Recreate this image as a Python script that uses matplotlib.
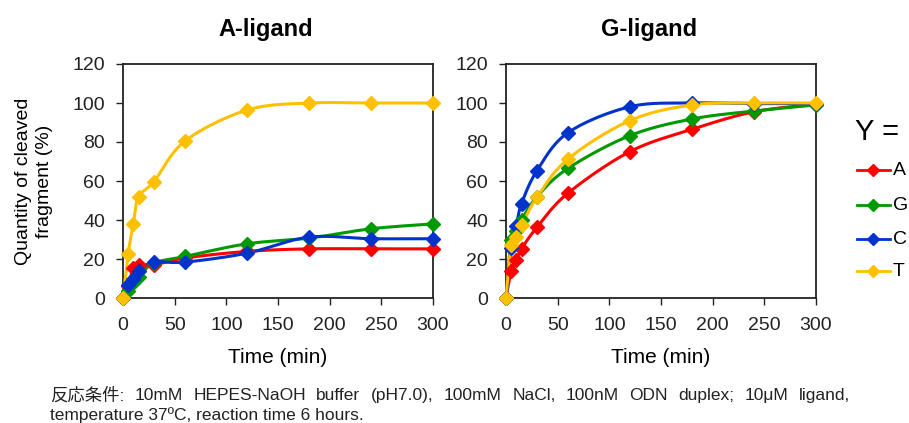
import numpy as np
import matplotlib
matplotlib.use("Agg")
import matplotlib.pyplot as plt
from matplotlib.lines import Line2D

plt.rcParams['font.family'] = ['Liberation Sans', 'DejaVu Sans']

# Reaction time points (min)
time_min = [0, 5, 10, 15, 30, 60, 120, 180, 240, 300]

# Cleaved fragment (%) for each Y base, A-ligand
a_lig_A = [0, 6, 15.4, 17, 17, 20.5, 23.9, 25.2, 25.2, 25.2]
a_lig_G = [0, 3.4, 7.7, 11, 17.9, 21.3, 27.8, 30.7, 35.5, 38]
a_lig_C = [0, 6.5, 9.5, 14, 18.4, 18.4, 23, 31.2, 30.4, 30.4]
a_lig_T = [0, 22.7, 38.2, 51.8, 59.7, 80.5, 96.4, 100, 100, 100]

# Cleaved fragment (%) for each Y base, G-ligand
g_lig_A = [0, 13.6, 19.6, 25.2, 36.3, 53.8, 75.1, 86.5, 95.5, 99.3]
g_lig_G = [0, 30, 34.5, 40, 52, 66.5, 83.3, 91.8, 95.9, 99]
g_lig_C = [0, 25.4, 37, 48.3, 65.3, 84.8, 98.1, 100, 99.7, 99.7]
g_lig_T = [0, 27.3, 31.2, 37.2, 51.7, 71.3, 91, 99, 100, 100]

series_names = ["A", "G", "C", "T"]
series_colors = ["#ff0000", "#009900", "#0033cc", "#ffc000"]
panel_titles = ["A-ligand", "G-ligand"]
x_ticks = [0, 50, 100, 150, 200, 250, 300]
y_ticks = [0, 20, 40, 60, 80, 100, 120]

caption_line1 = "反応条件: 10mM HEPES-NaOH buffer (pH7.0), 100mM NaCl, 100nM ODN duplex; 10μM ligand,"
caption_line2 = "temperature 37ºC, reaction time 6 hours."

W, H = 909, 423
fig = plt.figure(figsize=(W / 100, H / 100), dpi=100)


def ax_rect(x0, y0, x1, y1):
    return [x0 / W, 1 - y1 / H, (x1 - x0) / W, (y1 - y0) / H]


ax_left = fig.add_axes(ax_rect(123, 64, 433, 298))
ax_right = fig.add_axes(ax_rect(506, 64, 816, 298))


def smooth_path(ax, xs, ys, n=30):
    """Bezier smoothing (Catmull-Rom control points) computed in display space."""
    pts = ax.transData.transform(np.column_stack([xs, ys]))
    out = [pts[0]]
    m = len(pts)
    for i in range(m - 1):
        p0 = pts[i - 1] if i > 0 else pts[i]
        p1 = pts[i]
        p2 = pts[i + 1]
        p3 = pts[i + 2] if i + 2 < m else pts[i + 1]
        c1 = p1 + (p2 - p0) / 6.0
        c2 = p2 - (p3 - p1) / 6.0
        t = np.linspace(0, 1, n)[1:, None]
        seg = ((1 - t) ** 3) * p1 + 3 * ((1 - t) ** 2) * t * c1 + 3 * (1 - t) * t ** 2 * c2 + t ** 3 * p2
        out.extend(seg)
    out = np.array(out)
    return ax.transData.inverted().transform(out)


panels = [
    (ax_left, [a_lig_A, a_lig_G, a_lig_C, a_lig_T]),
    (ax_right, [g_lig_A, g_lig_G, g_lig_C, g_lig_T]),
]

for (ax, data), title in zip(panels, panel_titles):
    ax.set_xlim(0, 300)
    ax.set_ylim(0, 120)
    for vals, col in zip(data, series_colors):
        curve = smooth_path(ax, time_min, vals)
        ax.plot(curve[:, 0], curve[:, 1], color=col, lw=2.2, clip_on=False, zorder=3)
        ax.plot(time_min, vals, linestyle="none", marker="D", ms=7.5, color=col,
                mec=col, clip_on=False, zorder=4)
    ax.set_xticks(x_ticks)
    ax.set_yticks(y_ticks)
    ax.tick_params(direction="out", length=5, width=1, labelsize=14, colors="#222222",
                   pad=8)
    ax.tick_params(axis="x", pad=9)
    for s in ax.spines.values():
        s.set_linewidth(1.3)
        s.set_color("#222222")
    ax.set_xlabel("Time (min)", fontsize=15, labelpad=10)
    ax.set_title(title, fontsize=17, fontweight="bold", x=0.46, pad=20)

ax_left.set_ylabel("Quantity of cleaved\nfragment (%)", fontsize=14, labelpad=14,
                   linespacing=1.3)

# Legend block on the right edge
fig.text(855 / W, 1 - 132 / H, "Y =", fontsize=21, va="center", ha="left")
legend_y = [170, 205, 239, 271]
for name, col, yy in zip(series_names, series_colors, legend_y):
    fy = 1 - yy / H
    fig.add_artist(Line2D([857 / W, 890 / W], [fy, fy], color=col, lw=2,
                          transform=fig.transFigure))
    fig.add_artist(Line2D([873 / W], [fy], marker="D", ms=6, color=col,
                          transform=fig.transFigure, linestyle="none"))
    fig.text(893 / W, fy, name, fontsize=14, va="center", ha="left")

# Caption, first line justified across the width
cap_font = ['Liberation Sans', 'Noto Sans CJK JP']
fig.canvas.draw()
renderer = fig.canvas.get_renderer()
words = caption_line1.split(" ")
x_start, x_end = 50, 850
texts = []
for w in words:
    t = fig.text(0, 1 - 395 / H, w, fontsize=12.5, family=cap_font, va="center",
                 ha="left", color="#222222")
    texts.append(t)
widths = [t.get_window_extent(renderer).width for t in texts]
gap = (x_end - x_start - sum(widths)) / (len(words) - 1)
x = x_start
for t, w in zip(texts, widths):
    t.set_x(x / W)
    x += w + gap
fig.text(x_start / W, 1 - 415 / H, caption_line2, fontsize=12.5, family=cap_font,
         va="center", ha="left", color="#222222")

fig.savefig("out.png", dpi=100)
